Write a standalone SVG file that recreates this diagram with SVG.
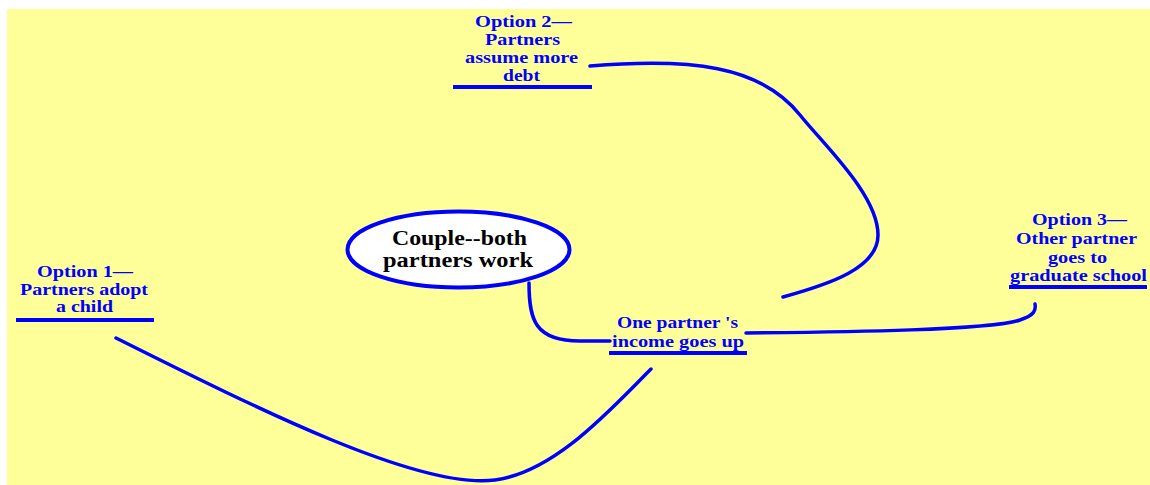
<svg xmlns="http://www.w3.org/2000/svg" width="1150" height="485" viewBox="0 0 1150 485">
<style>
.bg{fill:#FFFF99}
.conn{fill:none;stroke:#0000FF;stroke-width:3.5;stroke-linecap:round}
.bar{stroke:#0000FF;stroke-width:4}
.opt{font-family:"Liberation Serif","Times New Roman",serif;font-weight:bold;font-size:17px;fill:#0000FF;text-anchor:middle}
.main{font-family:"Liberation Serif","Times New Roman",serif;font-weight:bold;font-size:20px;fill:#000000;text-anchor:middle}
</style>
<rect class="bg" x="7" y="9" width="1143" height="476"/>
<g id="connectors">
<path class="conn" d="M590,66 C690,58 760,65 800,115 C824,145 878,195 878,235 C878,268 830,284 783,297"/>
<path class="conn" d="M746,333 C850,332 990,330 1020,320 C1035,315 1036,310 1035,304"/>
<path class="conn" d="M116,338 C260,410 420,490 495,480 C555,472 610,410 651,369"/>
<path class="conn" d="M529,283 C529,320 535,341 580,341 L610,341"/>
</g>
<g id="center">
<ellipse cx="458.5" cy="249.5" rx="111" ry="38" fill="#FFFFFF" stroke="#0000FF" stroke-width="4"/>
<text class="main" x="459.5" y="245" textLength="135" lengthAdjust="spacingAndGlyphs">Couple--both</text>
<text class="main" x="458" y="267" textLength="150" lengthAdjust="spacingAndGlyphs">partners work</text>
</g>
<g id="option2">
<text class="opt" x="523.5" y="27" textLength="97" lengthAdjust="spacingAndGlyphs">Option 2—</text>
<text class="opt" x="522.5" y="45" textLength="75" lengthAdjust="spacingAndGlyphs">Partners</text>
<text class="opt" x="521.5" y="63" textLength="113" lengthAdjust="spacingAndGlyphs">assume more</text>
<text class="opt" x="521.5" y="81" textLength="37" lengthAdjust="spacingAndGlyphs">debt</text>
<line class="bar" x1="453" y1="87" x2="592" y2="87"/>
</g>
<g id="option1">
<text class="opt" x="85" y="277" textLength="96" lengthAdjust="spacingAndGlyphs">Option 1—</text>
<text class="opt" x="84" y="295" textLength="128" lengthAdjust="spacingAndGlyphs">Partners adopt</text>
<text class="opt" x="84.5" y="312" textLength="57" lengthAdjust="spacingAndGlyphs">a child</text>
<line class="bar" x1="16" y1="320" x2="154" y2="320"/>
</g>
<g id="option3">
<text class="opt" x="1079.5" y="225" textLength="95" lengthAdjust="spacingAndGlyphs">Option 3—</text>
<text class="opt" x="1076.5" y="244" textLength="121" lengthAdjust="spacingAndGlyphs">Other partner</text>
<text class="opt" x="1077.5" y="263" textLength="59" lengthAdjust="spacingAndGlyphs">goes to</text>
<text class="opt" x="1078.5" y="281" textLength="137" lengthAdjust="spacingAndGlyphs">graduate school</text>
<line class="bar" x1="1009" y1="287" x2="1147" y2="287"/>
</g>
<g id="income">
<text class="opt" x="677.5" y="328" textLength="121" lengthAdjust="spacingAndGlyphs">One partner 's</text>
<text class="opt" x="678" y="347" textLength="132" lengthAdjust="spacingAndGlyphs">income goes up</text>
<line class="bar" x1="609" y1="353" x2="747" y2="353"/>
</g>
</svg>
